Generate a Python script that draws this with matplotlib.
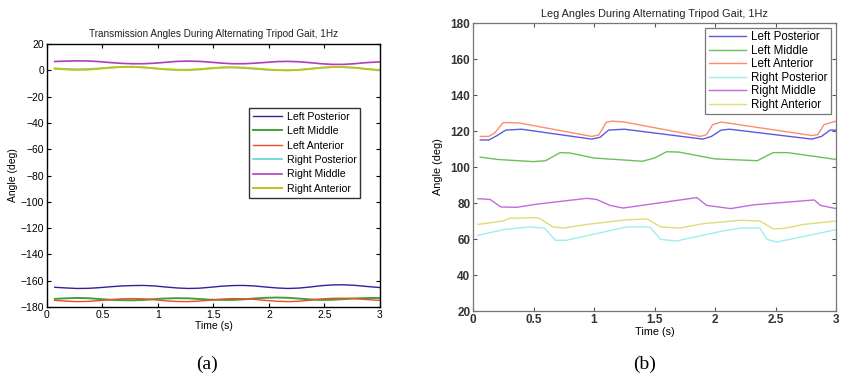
import matplotlib
matplotlib.use("Agg")
import matplotlib.pyplot as plt

plt.rcParams['font.family'] = ['Liberation Sans', 'DejaVu Sans']

# ---------------- Panel (a): transmission angles ----------------
t_a = [0.07, 0.17, 0.27, 0.37, 0.47, 0.57, 0.67, 0.77, 0.87, 0.97,
       1.07, 1.17, 1.27, 1.37, 1.47, 1.57, 1.67, 1.77, 1.87, 1.97,
       2.07, 2.17, 2.27, 2.37, 2.47, 2.57, 2.67, 2.77, 2.87, 2.97, 3.0]
a_left_posterior = [-165.0, -165.5, -165.9, -165.8, -165.3, -164.6, -164.0, -163.7, -163.6, -164.0,
                    -164.8, -165.5, -165.9, -165.7, -165.0, -164.2, -163.7, -163.6, -164.0, -164.8,
                    -165.5, -165.9, -165.6, -164.8, -163.8, -163.2, -163.1, -163.5, -164.3, -165.0, -165.2]
a_left_middle = [-173.8, -173.4, -173.1, -173.3, -173.9, -174.5, -174.8, -174.9, -174.6, -174.0,
                 -173.5, -173.3, -173.4, -173.9, -174.4, -174.6, -174.6, -174.2, -173.5, -173.0,
                 -172.8, -173.0, -173.6, -174.2, -174.6, -174.5, -174.0, -173.5, -173.2, -173.1, -173.1]
a_left_anterior = [-174.9, -175.5, -175.9, -175.7, -175.1, -174.4, -173.8, -173.6, -173.8, -174.5,
                   -175.3, -175.8, -175.9, -175.5, -174.8, -174.0, -173.6, -173.7, -174.2, -175.0,
                   -175.6, -175.9, -175.6, -174.8, -173.9, -173.4, -173.3, -173.6, -174.3, -174.8, -174.9]
a_right_posterior = [1.5, 1.0, 0.8, 1.0, 1.5, 2.1, 2.5, 2.5, 2.1, 1.4,
                     0.8, 0.5, 0.5, 0.9, 1.6, 2.1, 2.2, 1.8, 1.1, 0.5,
                     0.1, 0.0, 0.4, 1.2, 2.0, 2.4, 2.4, 1.9, 1.0, 0.2, 0.0]
a_right_middle = [6.7, 7.0, 7.2, 7.1, 6.6, 5.9, 5.3, 5.0, 5.0, 5.4,
                  6.1, 6.8, 7.0, 6.8, 6.2, 5.5, 5.0, 5.0, 5.4, 6.0,
                  6.6, 6.8, 6.5, 5.8, 5.0, 4.5, 4.5, 5.0, 5.8, 6.3, 6.4]
a_right_anterior = [1.2, 0.7, 0.3, 0.5, 1.2, 2.0, 2.6, 2.7, 2.3, 1.5,
                    0.7, 0.3, 0.2, 0.6, 1.4, 2.1, 2.3, 2.0, 1.4, 0.7,
                    0.2, 0.0, 0.3, 1.0, 1.9, 2.5, 2.5, 2.0, 1.1, 0.4, 0.2]

# ---------------- Panel (b): leg angles ----------------
b_lp_t = [0.06, 0.13, 0.2, 0.27, 0.4, 0.98, 1.05, 1.12, 1.25, 1.9, 1.97, 2.05, 2.12, 2.8, 2.88, 2.95, 3.0]
b_lp_y = [115, 115, 117.5, 120.5, 121, 115.5, 116.5, 120.5, 121, 115.5, 117, 120.5, 121, 115.5, 117, 120.5, 120.5]
b_lm_t = [0.06, 0.2, 0.5, 0.6, 0.72, 0.8, 1.0, 1.4, 1.5, 1.6, 1.7, 2.0, 2.35, 2.42, 2.48, 2.6, 3.0]
b_lm_y = [105.5, 104.2, 103, 103.5, 108, 107.8, 105, 103.2, 105, 108.5, 108.3, 104.5, 103.5, 106, 108, 108, 104.2]
b_la_t = [0.06, 0.13, 0.18, 0.25, 0.38, 0.98, 1.04, 1.1, 1.15, 1.25, 1.88, 1.93, 1.98, 2.05, 2.8, 2.85, 2.9, 3.0]
b_la_y = [117, 117, 119, 124.7, 124.5, 117, 117.8, 124.8, 125.5, 125, 117, 118, 123.5, 125, 117.5, 118, 123.5, 125.5]
b_rp_t = [0.04, 0.25, 0.47, 0.59, 0.68, 0.77, 1.08, 1.27, 1.46, 1.55, 1.68, 2.04, 2.21, 2.37, 2.43, 2.51, 2.79, 3.0]
b_rp_y = [62, 65.2, 66.7, 66.1, 59.3, 59.3, 63.9, 66.7, 66.7, 59.8, 58.9, 64.1, 66.1, 66.1, 59.8, 58.3, 62.2, 65.2]
b_rm_t = [0.04, 0.14, 0.23, 0.36, 0.52, 0.94, 1.02, 1.13, 1.24, 1.49, 1.85, 1.93, 2.13, 2.32, 2.82, 2.87, 3.0]
b_rm_y = [82.4, 82, 77.8, 77.6, 79.3, 82.6, 82, 78.7, 77.2, 79.6, 83, 78.7, 76.9, 79, 81.7, 78.7, 76.9]
b_ra_t = [0.04, 0.25, 0.3, 0.52, 0.55, 0.66, 0.75, 0.94, 1.27, 1.44, 1.55, 1.71, 1.9, 2.21, 2.37, 2.48, 2.57, 2.73, 3.0]
b_ra_y = [68.1, 70, 71.5, 71.9, 71.5, 66.7, 66.1, 68.1, 70.7, 71.1, 66.7, 66.1, 68.5, 70.4, 70, 65.7, 65.9, 68.1, 70]

labels = ['Left Posterior', 'Left Middle', 'Left Anterior',
          'Right Posterior', 'Right Middle', 'Right Anterior']
colors_a = ['#3b1c9c', '#3fa23a', '#f04a2a', '#5fd6d6', '#b03cc0', '#c2c21a']
colors_b = ['#5a5ae0', '#6cc05c', '#ff8c6a', '#9eeeee', '#c46ae0', '#e0dc78']
width_a = [1.0, 1.4, 1.0, 1.2, 1.2, 1.4]

fig = plt.figure(figsize=(8.42, 3.81), dpi=100)

# ---- panel (a)
ax1 = fig.add_axes([0.0558, 0.1942, 0.3955, 0.6903])
series_a = [a_left_posterior, a_left_middle, a_left_anterior,
            a_right_posterior, a_right_middle, a_right_anterior]
for y, c, lab, lw in zip(series_a, colors_a, labels, width_a):
    ax1.plot(t_a, y, color=c, lw=lw, label=lab)
ax1.set_xlim(0, 3)
ax1.set_ylim(-180, 20)
ax1.set_xticks([0, 0.5, 1, 1.5, 2, 2.5, 3])
ax1.set_xticklabels(['0', '0.5', '1', '1.5', '2', '2.5', '3'])
ax1.set_yticks(range(-180, 21, 20))
ax1.tick_params(direction='in', top=True, right=True, labelsize=7.5, length=3, width=0.8, pad=2)
for s in ax1.spines.values():
    s.set_linewidth(1.0)
ax1.set_title('Transmission Angles During Alternating Tripod Gait, 1Hz', fontsize=7.2, pad=5, color='#222222')
ax1.set_xlabel('Time (s)', fontsize=7.5, labelpad=1)
ax1.set_ylabel('Angle (deg)', fontsize=7.5, labelpad=2)
leg1 = ax1.legend(loc='lower left', bbox_to_anchor=(0.607, 0.414, 0.333, 0.343), mode='expand',
                  fontsize=7.6, frameon=True, fancybox=False, edgecolor='black',
                  handlelength=2.7, handletextpad=0.5, borderaxespad=0, labelspacing=0.42,
                  borderpad=0.4)
leg1.get_frame().set_linewidth(1.0)

# ---- panel (b)
ax2 = fig.add_axes([0.5618, 0.1837, 0.4311, 0.7559])
series_b = [(b_lp_t, b_lp_y), (b_lm_t, b_lm_y), (b_la_t, b_la_y),
            (b_rp_t, b_rp_y), (b_rm_t, b_rm_y), (b_ra_t, b_ra_y)]
for (tt, yy), c, lab in zip(series_b, colors_b, labels):
    ax2.plot(tt, yy, color=c, lw=1.0, label=lab)
ax2.set_xlim(0, 3)
ax2.set_ylim(20, 180)
ax2.set_xticks([0, 0.5, 1, 1.5, 2, 2.5, 3])
ax2.set_xticklabels(['0', '0.5', '1', '1.5', '2', '2.5', '3'])
ax2.set_yticks(range(20, 181, 20))
ax2.tick_params(direction='in', top=True, right=True, labelsize=8.5, length=3, width=0.8, pad=2,
                color='#555555')
for lab in ax2.get_xticklabels() + ax2.get_yticklabels():
    lab.set_fontweight('bold')
    lab.set_color('#333333')
for s in ax2.spines.values():
    s.set_linewidth(0.9)
    s.set_color('#777777')
ax2.set_title('Leg Angles During Alternating Tripod Gait, 1Hz', fontsize=7.8, pad=4, color='#222222')
ax2.set_xlabel('Time (s)', fontsize=7.8, labelpad=1)
ax2.set_ylabel('Angle (deg)', fontsize=7.8, labelpad=5)
leg2 = ax2.legend(loc='upper right', fontsize=8.3, frameon=True, fancybox=False, edgecolor='#555555',
                  handlelength=3.2, handletextpad=0.5, borderaxespad=0.4, labelspacing=0.13,
                  borderpad=0.3)
leg2.get_frame().set_linewidth(0.9)

# captions
fig.text(0.246, 0.045, '(a)', ha='center', va='center', fontsize=14, family='Liberation Serif')
fig.text(0.765, 0.045, '(b)', ha='center', va='center', fontsize=14, family='Liberation Serif')

fig.savefig('out.png', dpi=100)
